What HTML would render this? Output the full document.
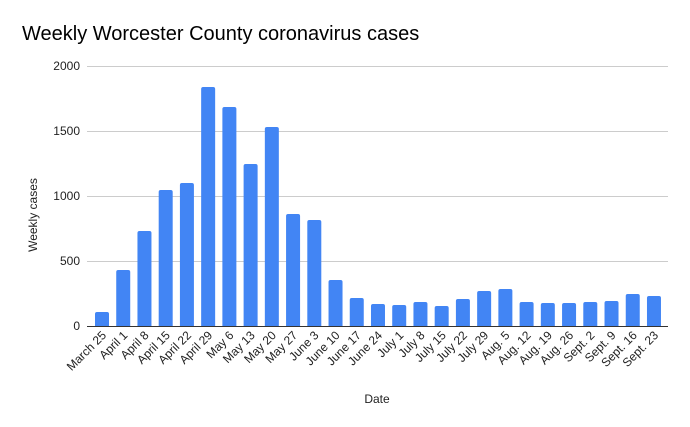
<!DOCTYPE html>
<html><head><meta charset="utf-8"><style>
html,body{margin:0;padding:0;background:#fff;}
svg{display:block;font-family:"Liberation Sans",Arial,sans-serif;}
</style></head><body>
<svg width="690" height="427" viewBox="0 0 690 427" xmlns="http://www.w3.org/2000/svg">
<rect width="690" height="427" fill="#fff"/>
<text x="22" y="40" font-size="20" fill="#000">Weekly Worcester County coronavirus cases</text>
<g stroke="#cccccc" stroke-width="1">
<line x1="87" y1="66.5" x2="668" y2="66.5"/>
<line x1="87" y1="131.5" x2="668" y2="131.5"/>
<line x1="87" y1="196.5" x2="668" y2="196.5"/>
<line x1="87" y1="261.5" x2="668" y2="261.5"/>
</g>
<g font-size="12" fill="#222" text-anchor="end">
<text x="80" y="70">2000</text>
<text x="80" y="135">1500</text>
<text x="80" y="200">1000</text>
<text x="80" y="265">500</text>
<text x="80" y="330">0</text>
</g>
<text transform="translate(37,215) rotate(-90)" font-size="12" text-anchor="middle" fill="#222">Weekly cases</text>
<text x="377" y="403" font-size="12" text-anchor="middle" fill="#222">Date</text>
<g id="bars" fill="#4285f4"></g>
<line x1="87" y1="326.5" x2="668" y2="326.5" stroke="#333" stroke-width="1"/>
<g id="labels" font-size="12" fill="#222" text-anchor="end"></g>
<script>
var tops=[312,270,231,190,183,87,107,164,127,214,220,280,298,304,305,302,306,299,291,289,302,303,303,302,301,294,296];
var labs=["March 25","April 1","April 8","April 15","April 22","April 29","May 6","May 13","May 20","May 27","June 3","June 10","June 17","June 24","July 1","July 8","July 15","July 22","July 29","Aug. 5","Aug. 12","Aug. 19","Aug. 26","Sept. 2","Sept. 9","Sept. 16","Sept. 23"];
var ns="http://www.w3.org/2000/svg",b=document.getElementById("bars"),l=document.getElementById("labels");
for(var i=0;i<27;i++){var x=95+i*21.23;
var r=document.createElementNS(ns,"path");var t=tops[i],w=14,rr=2;
r.setAttribute("d","M"+x+",326 V"+(t+rr)+" Q"+x+","+t+" "+(x+rr)+","+t+" H"+(x+w-rr)+" Q"+(x+w)+","+t+" "+(x+w)+","+(t+rr)+" V326 Z");
b.appendChild(r);
var tx=document.createElementNS(ns,"text");var cx=x+7+5;
tx.setAttribute("transform","translate("+cx+",336) rotate(-45)");tx.textContent=labs[i];l.appendChild(tx);}
</script>
</svg>
</body></html>
